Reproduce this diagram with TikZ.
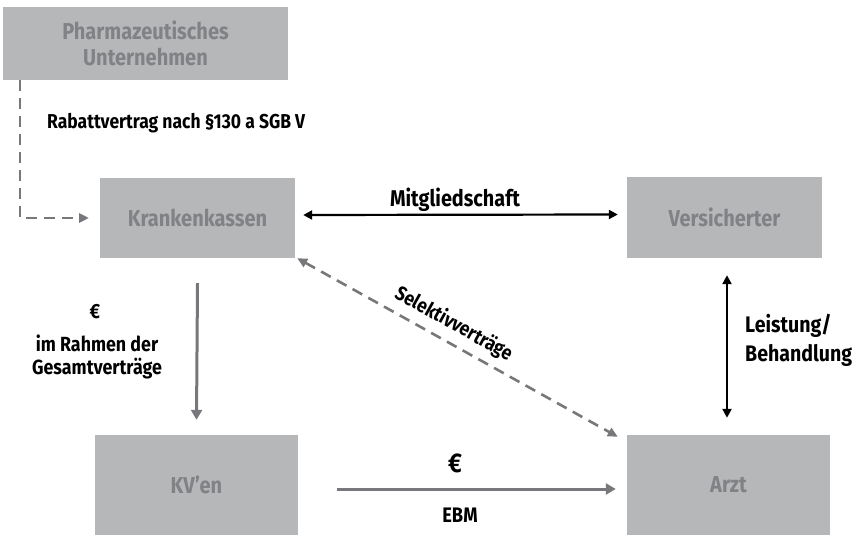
\documentclass[tikz,border=0pt]{standalone}
\usepackage{fontspec}
\setmainfont{Fira Sans}[FakeStretch=0.87]
\usetikzlibrary{arrows.meta}
\definecolor{boxfill}{HTML}{B6B7B9}
\definecolor{boxtext}{HTML}{818285}
\definecolor{arrgray}{HTML}{77787B}
\newcommand{\fsz}[2]{\bfseries\fontsize{#1}{#2}\selectfont}
\tikzset{
  box/.style={fill=boxfill, draw=none, inner sep=0pt, text=boxtext, font=\fsz{23}{26}, align=center},
  lbl/.style={text=black, inner sep=0pt},
  grayarr/.style={draw=arrgray, line width=3pt, -{Triangle[length=10pt,width=11pt]}},
  blackarr/.style={draw=black, line width=2.2pt, {Triangle[length=9pt,width=9pt]}-{Triangle[length=9pt,width=9pt]}},
  dasharr/.style={draw=arrgray, line width=2.6pt, dash pattern=on 11pt off 7pt},
}
\begin{document}
\begin{tikzpicture}[x=1pt,y=-1pt]
\useasboundingbox (0,0) rectangle (856,537);
% boxes
\node[box, minimum width=285pt, minimum height=73pt] (ph) at (145.5,43.5) {Pharmazeutisches\\Unternehmen};
\node[box, minimum width=195pt, minimum height=80pt] (kk) at (197.5,218) {Krankenkassen};
\node[box, minimum width=195pt, minimum height=81pt] (vs) at (724.5,217.5) {Versicherter};
\node[box, minimum width=203pt, minimum height=100pt] (kv) at (196.5,485) {KV’en};
\node[box, minimum width=203pt, minimum height=100pt] (az) at (728.5,485) {Arzt};
% coordinates for connector ends
\coordinate (phd) at (20,80);
\coordinate (bend) at (20,218);
\coordinate (kkin) at (89,218);
% pharma dashed
\draw[dasharr, -{Triangle[length=10pt,width=9pt]}] (phd) -- (bend) -- (kkin);
% kk -> kv
\draw[grayarr] ([yshift=-25pt]kk.south) -- ([yshift=15pt]kv.north);
% kv -> arzt
\draw[grayarr] ([xshift=39pt,yshift=-4pt]kv.east) -- ([xshift=-11pt,yshift=-4pt]az.west);
% kk <-> vs
\draw[blackarr] ([xshift=8pt,yshift=3pt]kk.east) -- ([xshift=-9pt,yshift=3pt]vs.west);
% selektiv
\draw[dasharr, {Triangle[length=10pt,width=9pt]}-{Triangle[length=10pt,width=9pt]}] ([xshift=2pt]kk.south east) -- ([xshift=-9pt,yshift=-2pt]az.north west)
  node[pos=0.46, sloped, above=7pt, lbl, font=\fsz{20}{24}] (sel) {Selektivverträge};
% vs <-> arzt
\draw[blackarr] ([xshift=2.5pt,yshift=-17pt]vs.south) -- ([xshift=-1.5pt,yshift=17pt]az.north);
% labels
\node[lbl, anchor=west, font=\fsz{20.1}{23}] (rab) at (47,123) {Rabattvertrag nach §130 a SGB V};
\node[lbl, font=\fsz{22.8}{26}] (mit) at (455,200) {Mitgliedschaft};
\node[lbl, font=\fsz{20.5}{24}] (eu1) at (95,312) {€};
\node[lbl, align=center, font=\fsz{20.5}{22.5}] (ira) at (97,357) {im Rahmen der\\Gesamtverträge};
\node[lbl, font=\fsz{27}{30}] (eu2) at (455,463) {€};
\node[lbl, font=\fsz{21}{26}] (ebm) at (460,515) {EBM};
\node[lbl, anchor=west, align=left, font=\fsz{22.5}{29}] (lei) at (745,340) {Leistung/\\Behandlung};
\end{tikzpicture}
\end{document}
